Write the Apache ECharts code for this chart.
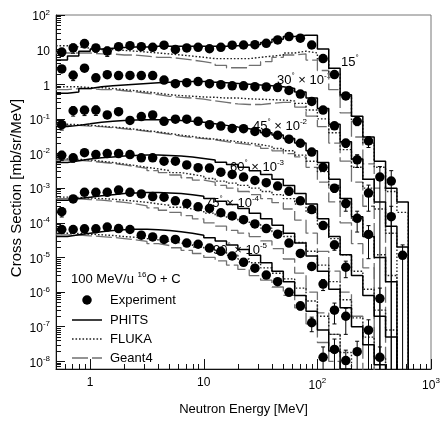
<!DOCTYPE html>
<html>
<head>
<meta charset="utf-8">
<script src="https://cdn.jsdelivr.net/npm/echarts@6/dist/echarts.min.js"></script>
<style>
html, body { margin: 0; padding: 0; background: #fff; }
#chart { width: 444px; height: 421px; }
</style>
</head>
<body>
<div id="chart"></div>
<script>
// Neutron energy binning (MeV): bin edges (one more than bins) and bin centres
const binEdges = [0.5, 0.631, 0.794, 1.0, 1.259, 1.585, 1.995, 2.512, 3.162, 3.981, 5.012, 6.310, 7.943,
  10.0, 12.59, 15.85, 19.95, 25.12, 31.62, 39.81, 50.12, 63.10, 79.43,
  100, 125.9, 158.5, 199.5, 251.2, 316.2, 398.1, 501.2, 631.0];
const binCenters = [0.562, 0.708, 0.891, 1.122, 1.413, 1.778, 2.239, 2.818, 3.548, 4.467, 5.623, 7.079, 8.913,
  11.22, 14.13, 17.78, 22.39, 28.18, 35.48, 44.67, 56.23, 70.79, 89.13,
  112.2, 141.3, 177.8, 223.9, 281.8, 354.8, 446.7, 562.3];

// Emission angles (deg) and the power of ten each spectrum is multiplied by when drawn
const angles = [15, 30, 45, 60, 75, 90];
const offsetPow = [0, -1, -2, -3, -4, -5];

// Measured double-differential cross sections (mb/sr/MeV), null = no measurement
const exp15 = [8.5, 11.2, 15.0, 11.2, 9.1, 12.2, 13.0, 12.2, 11.7, 13.4, 10.1, 11.2, 11.7, 10.6, 11.7, 13.4, 13.6, 13.9, 15.2, 19.1, 23.8, 21.4, 13.6, 5.5, 1.9, 0.46, 0.085, 0.023, 0.0021, 0.0016, null];
const exp30 = [27.8, 18.2, 29.1, 15.3, 18.9, 17.8, 18.0, 17.8, 17.8, 13.2, 10.4, 11.1, 12.0, 10.4, 9.7, 9.0, 9.0, 8.5, 8.4, 8.0, 6.6, 5.2, 3.2, 1.8, 0.63, 0.20, 0.066, 0.0072, null, 0.0015, null];
const exp45 = [6.8, 17.2, 17.8, 18.0, 13.0, 16.1, 9.0, 11.7, 13.0, 8.5, 9.8, 9.8, 8.5, 6.8, 6.2, 5.3, 5.2, 4.36, 4.0, 3.37, 2.6, 1.98, 1.1, 0.40, 0.10, 0.036, 0.0135, 0.0046, null, null, 0.00115];
const exp60 = [8.9, 7.5, 10.6, 9.3, 10.0, 10.0, 9.3, 7.5, 7.5, 6.0, 6.0, 4.7, 3.9, 3.8, 2.9, 2.5, 2.1, 1.67, 1.44, 1.15, 0.81, 0.43, 0.24, 0.083, 0.023, 0.0052, null, null, 0.00065, null, null];
const exp75 = [2.1, 4.9, 7.6, 7.6, 7.6, 8.8, 7.6, 6.8, 5.7, 5.5, 4.3, 3.6, 2.9, 2.6, 1.95, 1.58, 1.23, 0.93, 0.68, 0.47, 0.26, 0.13, 0.055, 0.017, 0.003, 0.002, null, 0.00079, null, null, null];
const exp90 = [6.4, 6.4, 6.7, 6.7, 7.5, 6.8, 6.4, 4.4, 3.9, 3.3, 3.3, 2.6, 2.4, 1.86, 1.5, 1.1, 0.72, 0.49, 0.31, 0.20, 0.098, 0.040, 0.013, 0.0013, 0.0022, 0.00105, 0.0019, null, 0.0013, null, null];

// Relative uncertainties of the measurements (1 = bar reaches zero)
const err15 = [0.25, 0.3, 0.25, 0.25, 0.3, 0.1, 0.08, 0.08, 0.08, 0.08, 0.1, 0.08, 0.08, 0.08, 0.08, 0.08, 0.08, 0.08, 0.08, 0.08, 0.08, 0.08, 0.08, 0.1, 0.12, 0.15, 0.25, 0.35, 1.0, 1.0, null];
const err30 = [0.2, 0.3, 0.2, 0.2, 0.2, 0.1, 0.08, 0.08, 0.08, 0.1, 0.08, 0.08, 0.08, 0.08, 0.08, 0.08, 0.08, 0.08, 0.08, 0.08, 0.08, 0.08, 0.1, 0.1, 0.15, 0.25, 0.4, 0.7, null, 1.0, null];
const err45 = [0.3, 0.3, 0.3, 0.3, 0.2, 0.15, 0.1, 0.1, 0.1, 0.1, 0.08, 0.08, 0.08, 0.08, 0.08, 0.08, 0.08, 0.08, 0.08, 0.08, 0.08, 0.08, 0.1, 0.15, 0.25, 0.4, 0.6, 0.8, null, null, 1.0];
const err60 = [0.3, 0.25, 0.15, 0.1, 0.1, 0.1, 0.1, 0.1, 0.1, 0.1, 0.08, 0.08, 0.08, 0.08, 0.08, 0.08, 0.08, 0.08, 0.08, 0.08, 0.1, 0.1, 0.15, 0.2, 0.3, 0.5, null, null, 1.0, null, null];
const err75 = [0.3, 0.2, 0.15, 0.1, 0.1, 0.1, 0.1, 0.1, 0.1, 0.1, 0.08, 0.08, 0.08, 0.08, 0.08, 0.08, 0.08, 0.08, 0.1, 0.1, 0.1, 0.15, 0.2, 0.35, 0.6, 0.7, null, 1.0, null, null, null];
const err90 = [0.2, 0.15, 0.1, 0.1, 0.1, 0.1, 0.1, 0.1, 0.1, 0.1, 0.1, 0.1, 0.1, 0.1, 0.1, 0.1, 0.1, 0.1, 0.1, 0.1, 0.15, 0.25, 0.45, 1.0, 1.0, 1.0, 1.0, null, 1.0, null, null];

// PHITS histograms (per bin, 0 = empty bin)
const phits15 = [5.0, 6.5, 9, 10.5, 11, 11.5, 12, 12, 12.5, 12.5, 12.5, 12.5, 12.5, 12.5, 12.5, 13, 13.5, 14, 16, 20, 24, 26, 26, 10.5, 2.9, 0.5, 0.12, 0.03, 0.006, 0.001, 0.0004];
const phits30 = [5.5, 6, 7.5, 8.5, 9, 9.5, 10, 10.5, 11, 11.5, 12, 12, 12, 11.5, 11, 10.5, 10, 9.5, 9, 8.5, 7.5, 6, 4, 2, 0.7, 0.22, 0.07, 0.018, 0.004, 0.0008, 0.0002];
const phits45 = [6, 6.5, 7.2, 8, 8.5, 9, 9.3, 9.5, 9.5, 9.5, 9, 8.5, 8, 7.2, 6.5, 5.8, 5.2, 4.6, 4.0, 3.4, 2.7, 2.0, 1.2, 0.55, 0.18, 0.05, 0.015, 0.004, 0.001, 0.0002, 0];
const phits60 = [5.5, 6.2, 7, 7.5, 8, 8.5, 8.8, 9, 9, 8.8, 8.5, 8, 7.2, 6.5, 5.6, 4.8, 4.0, 3.2, 2.5, 1.8, 1.2, 0.7, 0.35, 0.13, 0.04, 0.012, 0.003, 0.0008, 0.0002, 0.00005, 0];
const phits75 = [4.5, 5, 5.5, 6, 6.5, 7, 7.3, 7.5, 7.5, 7.3, 7, 6.5, 5.8, 5, 4.2, 3.4, 2.6, 1.9, 1.3, 0.85, 0.5, 0.26, 0.11, 0.04, 0.012, 0.0035, 0.001, 0.0003, 0.00008, 0, 0];
const phits90 = [4, 4.5, 5, 5.5, 6, 6.3, 6.5, 6.5, 6.3, 6, 5.5, 5, 4.4, 3.7, 3, 2.3, 1.7, 1.15, 0.7, 0.4, 0.2, 0.08, 0.028, 0.008, 0.002, 0.0006, 0, 0, 0, 0, 0];

// FLUKA histograms
const fluka15 = [13, 12, 11, 10, 10, 9.5, 9, 8.5, 8, 7.5, 7, 6.5, 6, 5.5, 5.5, 5.5, 5.5, 6, 6.5, 7, 8, 9, 8, 5, 2, 0.45, 0.09, 0.02, 0.004, 0.0008, 0.0002];
const fluka30 = [8.5, 8.5, 8, 8, 7.5, 7, 6.5, 6, 5.5, 5, 4.7, 4.5, 4.3, 4.2, 4, 4, 3.8, 3.7, 3.6, 3.5, 3.3, 2.8, 1.8, 1.0, 0.4, 0.13, 0.04, 0.01, 0.0025, 0.0005, 0];
const fluka45 = [7, 6.8, 6.5, 6.2, 5.8, 5.5, 5, 4.6, 4.2, 3.8, 3.4, 3.1, 2.8, 2.6, 2.4, 2.2, 2.0, 1.8, 1.6, 1.4, 1.2, 0.9, 0.6, 0.3, 0.12, 0.04, 0.012, 0.004, 0.0012, 0.0003, 0];
const fluka60 = [7, 6.8, 6.5, 6, 5.5, 5, 4.5, 4, 3.6, 3.2, 2.8, 2.5, 2.2, 1.9, 1.6, 1.4, 1.2, 1.0, 0.8, 0.65, 0.5, 0.35, 0.2, 0.09, 0.035, 0.012, 0.004, 0.0012, 0.0003, 0.00008, 0];
const fluka75 = [5.5, 5.4, 5.2, 5, 4.8, 4.5, 4.2, 3.9, 3.5, 3.2, 2.8, 2.5, 2.2, 1.9, 1.6, 1.35, 1.1, 0.9, 0.7, 0.55, 0.4, 0.27, 0.15, 0.06, 0.02, 0.006, 0.0018, 0.0005, 0.00012, 0, 0];
const fluka90 = [5, 4.9, 4.7, 4.5, 4.3, 4, 3.8, 3.5, 3.2, 2.9, 2.6, 2.3, 2.0, 1.7, 1.4, 1.15, 0.9, 0.7, 0.5, 0.35, 0.24, 0.13, 0.055, 0.02, 0.006, 0.0018, 0.0005, 0, 0, 0, 0];

// Geant4 histograms
const geant15 = [8, 8, 8, 7.5, 7.5, 7, 7, 6.5, 6, 6, 5.5, 5, 4.5, 4, 3.5, 3, 3, 3.5, 4.5, 6, 7, 7.5, 5, 2.5, 0.7, 0.15, 0.03, 0.005, 0.001, 0, 0];
const geant30 = [7, 7.5, 7.5, 7, 7, 6.5, 6, 5.5, 5, 4.5, 4.2, 4, 3.7, 3.3, 3, 2.7, 2.6, 2.6, 2.8, 3, 3, 2.2, 1.2, 0.6, 0.2, 0.06, 0.015, 0.003, 0, 0, 0];
const geant45 = [6.5, 6.5, 6.2, 6, 5.6, 5.2, 4.8, 4.4, 4, 3.6, 3.2, 2.9, 2.7, 2.5, 2.2, 2.0, 1.8, 1.6, 1.4, 1.2, 1.0, 0.8, 0.4, 0.15, 0.04, 0.01, 0.0025, 0.0005, 0, 0, 0];
const geant60 = [6.5, 6.3, 6, 5.6, 5.2, 4.7, 4.2, 3.7, 3.2, 2.8, 2.4, 2.0, 1.7, 1.5, 1.2, 1.0, 0.8, 0.65, 0.5, 0.38, 0.25, 0.12, 0.05, 0.015, 0.004, 0.001, 0.0002, 0, 0, 0, 0];
const geant75 = [5, 4.9, 4.7, 4.5, 4.2, 3.9, 3.5, 3.1, 2.7, 2.3, 2, 1.6, 1.3, 1.0, 0.8, 0.6, 0.5, 0.4, 0.3, 0.18, 0.09, 0.035, 0.01, 0.0025, 0.0006, 0, 0, 0, 0, 0, 0];
const geant90 = [4.5, 4.4, 4.2, 4, 3.8, 3.5, 3.2, 2.9, 2.5, 2.2, 1.9, 1.6, 1.3, 1.0, 0.8, 0.6, 0.45, 0.3, 0.22, 0.14, 0.08, 0.035, 0.012, 0.0035, 0.001, 0, 0, 0, 0, 0, 0];

// Axis tick positions
const xMajor = [1, 10, 100, 1000];
const yMajor = [1e-8, 1e-7, 1e-6, 1e-5, 1e-4, 1e-3, 1e-2, 1e-1, 1, 10, 100];

const expSets = [exp15, exp30, exp45, exp60, exp75, exp90];
const errSets = [err15, err30, err45, err60, err75, err90];
const phitsSets = [phits15, phits30, phits45, phits60, phits75, phits90];
const flukaSets = [fluka15, fluka30, fluka45, fluka60, fluka75, fluka90];
const geantSets = [geant15, geant30, geant45, geant60, geant75, geant90];

const X_MIN = 0.5, X_MAX = 1000, Y_MIN = 6e-9, Y_MAX = 100;
const EMPTY = 1e-14;   // empty bins are drawn far below the frame
const FONT = '"Liberation Sans", Arial, Helvetica, sans-serif';

const LINE_PHITS = { color: '#000', width: 1.5, type: 'solid' };
const LINE_FLUKA = { color: '#222', width: 1.4, type: [1.6, 1.9] };
const LINE_GEANT = { color: '#707070', width: 1.3, type: [16, 4] };

// minor ticks at 2..9 of every decade inside the axis range
function minorTicks(lo, hi) {
  const out = [];
  for (let e = Math.floor(Math.log10(lo)); e <= Math.ceil(Math.log10(hi)); e++) {
    for (let m = 2; m <= 9; m++) {
      const v = m * Math.pow(10, e);
      if (v > lo && v < hi) out.push(v);
    }
  }
  return out;
}

function powerLabel(v) {
  const e = Math.round(Math.log10(v));
  if (e === 0) return '1';
  if (e === 1) return '10';
  return '10{sup|' + e + '}';
}

const supRich = {
  sup: { fontSize: 8, fontFamily: FONT, color: '#000', padding: [0, 0, 9, 0] }
};

// step outline of a histogram, closed down to zero after the last bin
function histData(vals, f) {
  const pts = vals.map((v, i) => [binEdges[i], v > 0 ? v * f : EMPTY]);
  pts.push([binEdges[vals.length], EMPTY]);
  return pts;
}

const series = [];

// measured points
angles.forEach((a, j) => {
  const f = Math.pow(10, offsetPow[j]);
  const pts = [];
  expSets[j].forEach((v, i) => { if (v != null) pts.push([binCenters[i], v * f]); });
  series.push({
    name: 'Experiment ' + a, type: 'scatter', symbol: 'circle', symbolSize: 9.5,
    itemStyle: { color: '#000', opacity: 1 }, z: 6, data: pts, silent: true
  });
});

// their error bars
angles.forEach((a, j) => {
  const f = Math.pow(10, offsetPow[j]);
  const bars = [];
  expSets[j].forEach((v, i) => {
    const e = errSets[j][i];
    if (v != null && e != null) bars.push([binCenters[i], v * f * (1 - e), v * f * (1 + e)]);
  });
  series.push({
    name: 'Experiment error ' + a, type: 'custom', z: 5, silent: true,
    data: bars,
    encode: { x: 0, y: [1, 2] },
    renderItem: function (params, api) {
      const x = api.value(0), lo = api.value(1), hi = api.value(2);
      const top = api.coord([x, hi]);
      const floorHit = !(lo > Y_MIN);
      const bot = api.coord([x, floorHit ? Y_MIN : lo]);
      const st = { stroke: '#000', lineWidth: 1 };
      const kids = [
        { type: 'line', shape: { x1: top[0], y1: top[1], x2: bot[0], y2: bot[1] }, style: st },
        { type: 'line', shape: { x1: top[0] - 2, y1: top[1], x2: top[0] + 2, y2: top[1] }, style: st }
      ];
      if (!floorHit) kids.push({ type: 'line', shape: { x1: bot[0] - 2, y1: bot[1], x2: bot[0] + 2, y2: bot[1] }, style: st });
      return { type: 'group', children: kids };
    }
  });
});

// model histograms
const models = [
  { name: 'PHITS', sets: phitsSets, line: LINE_PHITS, z: 4 },
  { name: 'FLUKA', sets: flukaSets, line: LINE_FLUKA, z: 3 },
  { name: 'Geant4', sets: geantSets, line: LINE_GEANT, z: 2 }
];
models.forEach(m => {
  angles.forEach((a, j) => {
    const f = Math.pow(10, offsetPow[j]);
    series.push({
      name: m.name + ' ' + a, type: 'line', step: 'end', symbol: 'none', showSymbol: false,
      lineStyle: m.line, z: m.z, silent: true, clip: true,
      data: histData(m.sets[j], f)
    });
  });
});

const axisLineStyle = { color: '#111', width: 1 };
const txt = (x, y, text, extra) => ({
  type: 'text', x: x, y: y,
  style: Object.assign({ text: text, font: '13px ' + FONT, fill: '#000', verticalAlign: 'middle', rich: supRich }, extra || {})
});
const legendLine = (y, ls) => ({
  type: 'line', shape: { x1: 72, y1: y, x2: 102, y2: y },
  style: { stroke: ls.color, lineWidth: ls.width, lineDash: Array.isArray(ls.type) ? ls.type : null }
});

const option = {
  animation: false,
  grid: { left: 56, right: 13, top: 15, bottom: 40, show: true, borderColor: '#777', borderWidth: 1, containLabel: false },
  xAxis: [
    {
      type: 'log', logBase: 10, min: X_MIN, max: X_MAX, position: 'bottom',
      axisLine: { show: true, onZero: false, lineStyle: axisLineStyle },
      axisTick: { show: true, inside: true, length: 10, customValues: xMajor, lineStyle: axisLineStyle },
      axisLabel: {
        customValues: xMajor, formatter: powerLabel, margin: 8,
        fontSize: 12, fontFamily: FONT, color: '#000', rich: supRich
      },
      splitLine: { show: false },
      name: 'Neutron Energy [MeV]', nameLocation: 'middle', nameGap: 34,
      nameTextStyle: { fontSize: 13, fontFamily: FONT, color: '#000' }
    },
    {
      type: 'log', logBase: 10, min: X_MIN, max: X_MAX, position: 'bottom',
      axisLine: { show: false },
      axisTick: { show: true, inside: true, length: 5, customValues: minorTicks(X_MIN, X_MAX), lineStyle: axisLineStyle },
      axisLabel: { show: false },
      splitLine: { show: false }
    }
  ],
  yAxis: [
    {
      type: 'log', logBase: 10, min: Y_MIN, max: Y_MAX, position: 'left',
      axisLine: { show: true, onZero: false, lineStyle: axisLineStyle },
      axisTick: { show: true, inside: true, length: 9, customValues: yMajor, lineStyle: axisLineStyle },
      axisLabel: {
        customValues: yMajor, formatter: powerLabel, margin: 6, padding: [4, 0, 0, 0],
        fontSize: 12, fontFamily: FONT, color: '#000', rich: supRich
      },
      splitLine: { show: false }
    },
    {
      type: 'log', logBase: 10, min: Y_MIN, max: Y_MAX, position: 'left',
      axisLine: { show: false },
      axisTick: { show: true, inside: true, length: 5, customValues: minorTicks(Y_MIN, Y_MAX), lineStyle: axisLineStyle },
      axisLabel: { show: false },
      splitLine: { show: false }
    }
  ],
  graphic: [
    // y-axis title
    { type: 'text', x: 17, y: 188, rotation: Math.PI / 2,
      style: { text: 'Cross Section [mb/sr/MeV]', font: '15px ' + FONT, fill: '#000', align: 'center', verticalAlign: 'middle' } },
    // angle labels with their plotting offsets
    txt(341, 62, '15{sup|°}'),
    txt(277, 80, '30{sup|°} × 10{sup|-1}'),
    txt(253, 126, '45{sup|°} × 10{sup|-2}'),
    txt(230, 167, '60{sup|°} × 10{sup|-3}'),
    txt(205, 203, '75{sup|°} × 10{sup|-4}'),
    txt(213, 250, '90{sup|°} × 10{sup|-5}'),
    // legend
    txt(71, 279, '100 MeV/u {sup|16}O + C'),
    { type: 'circle', shape: { cx: 87, cy: 300, r: 4.75 }, style: { fill: '#000' } },
    txt(110, 300, 'Experiment'),
    legendLine(320, LINE_PHITS),
    txt(110, 320, 'PHITS'),
    legendLine(339, LINE_FLUKA),
    txt(110, 339, 'FLUKA'),
    legendLine(358, LINE_GEANT),
    txt(110, 358, 'Geant4')
  ],
  series: series
};

const chart = echarts.init(document.getElementById('chart'), null, { renderer: 'canvas' });
chart.setOption(option);
</script>
</body>
</html>
